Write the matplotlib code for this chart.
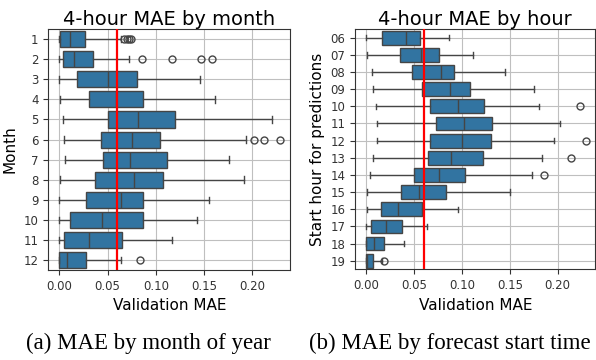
import matplotlib
matplotlib.use("Agg")
import matplotlib.pyplot as plt

# ---- data (box stats per row) ----
months = ["1", "2", "3", "4", "5", "6", "7", "8", "9", "10", "11", "12"]
m_lo  = [0.000, 0.000, 0.000, 0.001, 0.004, 0.005, 0.006, 0.001, 0.000, 0.000, 0.000, 0.000]
m_q1  = [0.001, 0.004, 0.018, 0.031, 0.050, 0.043, 0.045, 0.037, 0.028, 0.011, 0.005, 0.000]
m_med = [0.011, 0.015, 0.050, 0.059, 0.082, 0.075, 0.073, 0.077, 0.064, 0.044, 0.031, 0.008]
m_q3  = [0.027, 0.035, 0.081, 0.087, 0.120, 0.104, 0.112, 0.108, 0.087, 0.087, 0.065, 0.028]
m_hi  = [0.064, 0.072, 0.146, 0.161, 0.221, 0.194, 0.176, 0.192, 0.155, 0.143, 0.117, 0.064]
m_fl  = [[0.067, 0.070, 0.072, 0.074], [0.086, 0.117, 0.147, 0.158], [], [], [],
         [0.202, 0.212, 0.229], [], [], [], [], [], [0.084]]

hours = ["06", "07", "08", "09", "10", "11", "12", "13", "14", "15", "16", "17", "18", "19"]
h_lo  = [0.000, 0.001, 0.006, 0.007, 0.010, 0.011, 0.011, 0.007, 0.004, 0.001, 0.001, 0.000, 0.000, 0.000]
h_q1  = [0.017, 0.035, 0.048, 0.058, 0.067, 0.073, 0.067, 0.065, 0.050, 0.036, 0.015, 0.005, 0.000, 0.000]
h_med = [0.042, 0.057, 0.078, 0.088, 0.096, 0.102, 0.100, 0.089, 0.076, 0.055, 0.033, 0.021, 0.008, 0.001]
h_q3  = [0.056, 0.076, 0.092, 0.108, 0.123, 0.131, 0.130, 0.122, 0.103, 0.083, 0.058, 0.037, 0.019, 0.007]
h_hi  = [0.086, 0.112, 0.145, 0.175, 0.181, 0.203, 0.196, 0.184, 0.173, 0.150, 0.096, 0.064, 0.039, 0.016]
h_fl  = [[], [], [], [], [0.223], [], [0.230], [0.214], [0.186], [], [], [], [], [0.019]]

mean_mae = 0.06

BOX = "#3274a1"
LINE = "#454545"


def stats(lo, q1, med, q3, hi, fl):
    return [dict(whislo=a, q1=b, med=c, q3=d, whishi=e, fliers=f)
            for a, b, c, d, e, f in zip(lo, q1, med, q3, hi, fl)]


def draw(ax, st, labels, title, ylabel):
    ax.set_axisbelow(True)
    ax.grid(True, color="#bfbfbf", linewidth=0.8)
    ax.bxp(st, positions=range(len(st)), widths=0.8, capwidths=0.32,
           orientation="horizontal", patch_artist=True,
           boxprops=dict(facecolor=BOX, edgecolor=LINE, linewidth=1.0),
           medianprops=dict(color=LINE, linewidth=1.0),
           whiskerprops=dict(color=LINE, linewidth=1.0),
           capprops=dict(color=LINE, linewidth=1.0),
           flierprops=dict(marker="o", markerfacecolor="none",
                           markeredgecolor=LINE, markersize=5, markeredgewidth=1.0))
    ax.axvline(mean_mae, color="red", linewidth=1.6, zorder=5)
    ax.set_yticks(range(len(labels)))
    ax.set_yticklabels(labels)
    ax.set_ylim(len(labels) - 0.5, -0.5)
    ax.set_xlim(-0.0115, 0.2395)
    ax.set_xticks([0, 0.05, 0.10, 0.15, 0.20])
    ax.set_xticklabels(["0.00", "0.05", "0.10", "0.15", "0.20"])
    ax.tick_params(labelsize=8.5, colors="#333333")
    ax.set_title(title, fontsize=14, pad=3)
    ax.set_xlabel("Validation MAE", fontsize=11)
    ax.set_ylabel(ylabel, fontsize=11)
    for s in ax.spines.values():
        s.set_color("#333333")


fig = plt.figure(figsize=(5.96, 3.6), dpi=100)
ax1 = fig.add_axes([0.081, 0.25, 0.406, 0.669])
ax2 = fig.add_axes([0.596, 0.252, 0.403, 0.667])

draw(ax1, stats(m_lo, m_q1, m_med, m_q3, m_hi, m_fl), months,
     "4-hour MAE by month", "Month")
draw(ax2, stats(h_lo, h_q1, h_med, h_q3, h_hi, h_fl), hours,
     "4-hour MAE by hour", "Start hour for predictions")

fig.text(0.249, 0.047, "(a) MAE by month of year", ha="center", va="center",
         fontsize=16.5, family="Liberation Serif")
fig.text(0.518, 0.047, "(b) MAE by forecast start time", ha="left", va="center",
         fontsize=16.5, family="Liberation Serif")

fig.savefig("out.png", dpi=100)
